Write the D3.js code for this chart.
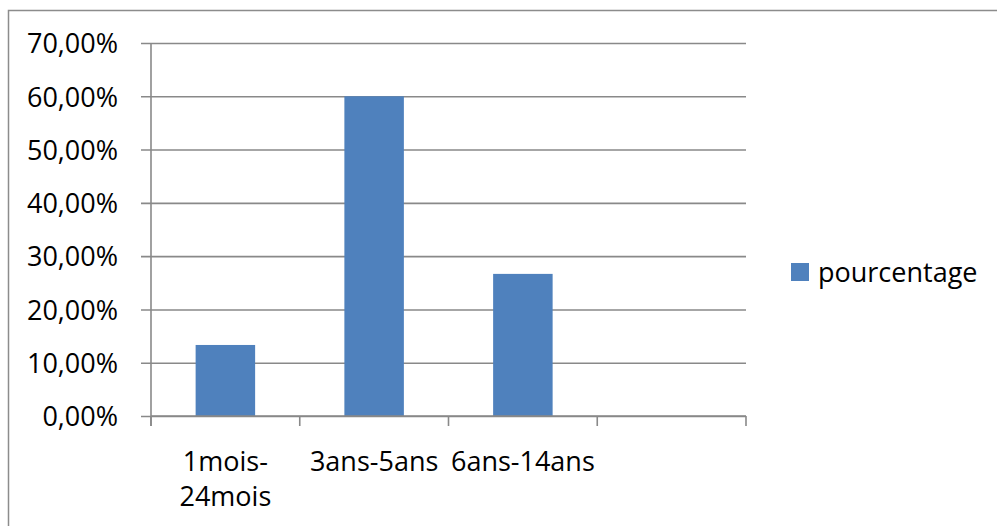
<!DOCTYPE html>
<html>
<head>
<meta charset="utf-8">
<script src="https://cdn.jsdelivr.net/npm/d3@7"></script>
<style>
  html, body { margin: 0; padding: 0; background: #fff; }
  svg { display: block; }
  text { font-family: "Open Sans", Lato, sans-serif; fill: #000; }
</style>
</head>
<body>
<svg id="chart" width="997" height="526"></svg>
<script>
// Age groups and their share of cases
const categories = ["1mois-24mois", "3ans-5ans", "6ans-14ans", ""];
const values = [0.1333, 0.60, 0.2667, null];
const yTicks = [0, 0.1, 0.2, 0.3, 0.4, 0.5, 0.6, 0.7];
const seriesName = "pourcentage";

const W = 997, H = 526;
const margin = { left: 151, right: 251, top: 43, bottom: 110 };
const gridColor = "#898989";
const barColor = "#4f81bd";
const fontSize = 27;

const svg = d3.select("#chart");

// outer chart frame
svg.append("rect")
  .attr("x", 8.5).attr("y", 10.5)
  .attr("width", W + 20).attr("height", H + 20)
  .attr("fill", "none").attr("stroke", "#8c8c8c").attr("stroke-width", 1.5);

const x = d3.scaleBand()
  .domain(categories.map((c, i) => i))
  .range([margin.left, W - margin.right])
  .paddingInner(0).paddingOuter(0);

const y = d3.scaleLinear()
  .domain([0, 0.7])
  .range([H - margin.bottom, margin.top]);

const fmt = v => d3.format(".2f")(v * 100).replace(".", ",") + "%";

// horizontal gridlines with outward ticks
const yAxis = d3.axisLeft(y)
  .tickValues(yTicks)
  .tickSize(-(W - margin.right - margin.left))
  .tickSizeOuter(0)
  .tickFormat(fmt)
  .tickPadding(33);

const gy = svg.append("g")
  .attr("transform", `translate(${margin.left},0)`)
  .call(yAxis);
gy.select(".domain").remove();
gy.selectAll(".tick line")
  .attr("x1", -10)
  .attr("stroke", gridColor).attr("stroke-width", 1.6);
gy.selectAll(".tick text")
  .attr("font-size", fontSize)
  .attr("dy", "0.36em");

// vertical axis line
svg.append("line")
  .attr("x1", margin.left).attr("x2", margin.left)
  .attr("y1", y(0.7)).attr("y2", y(0) + 10)
  .attr("stroke", gridColor).attr("stroke-width", 1.6);

// bars
const barW = x.bandwidth() * 0.4;
svg.append("g").selectAll("rect")
  .data(values.map((v, i) => ({ v, i })).filter(d => d.v != null))
  .join("rect")
  .attr("x", d => x(d.i) + (x.bandwidth() - barW) / 2)
  .attr("width", barW)
  .attr("y", d => y(d.v))
  .attr("height", d => y(0) - y(d.v))
  .attr("fill", barColor);

// category axis
const x0 = y(0);
svg.append("line")
  .attr("x1", margin.left).attr("x2", W - margin.right)
  .attr("y1", x0).attr("y2", x0)
  .attr("stroke", gridColor).attr("stroke-width", 1.6);
const boundaries = categories.map((c, i) => x(i)).concat([W - margin.right]);
svg.append("g").selectAll("line")
  .data(boundaries)
  .join("line")
  .attr("x1", d => d).attr("x2", d => d)
  .attr("y1", x0).attr("y2", x0 + 10)
  .attr("stroke", gridColor).attr("stroke-width", 1.6);

// category labels, wrapped after the hyphen when too wide for the slot
const labels = svg.append("g");
categories.forEach((c, i) => {
  if (!c) return;
  const cx = x(i) + x.bandwidth() / 2;
  const t = labels.append("text")
    .attr("x", cx).attr("y", 471)
    .attr("text-anchor", "middle").attr("font-size", fontSize)
    .text(c);
  if (t.node().getComputedTextLength() > x.bandwidth() - 2 && c.includes("-")) {
    const k = c.indexOf("-") + 1;
    t.text(null);
    t.append("tspan").attr("x", cx).attr("y", 471).text(c.slice(0, k));
    t.append("tspan").attr("x", cx).attr("y", 506).text(c.slice(k));
  }
});

// legend
const lg = svg.append("g").attr("transform", "translate(791,263)");
lg.append("rect").attr("width", 18).attr("height", 18).attr("fill", barColor);
lg.append("text").attr("x", 27).attr("y", 9).attr("dy", "0.36em")
  .attr("font-size", fontSize).text(seriesName);
</script>
</body>
</html>
